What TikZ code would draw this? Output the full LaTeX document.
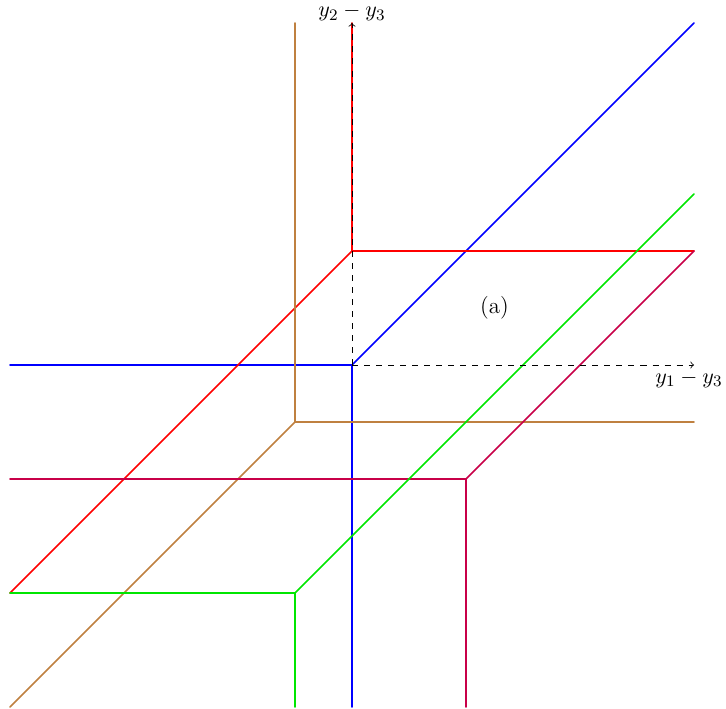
\documentclass[tikz,border=0pt]{standalone}
\usepackage{xcolor}
\definecolor{cbrown}{RGB}{191,128,64}
\definecolor{cpurple}{RGB}{200,0,72}
\definecolor{cgreen}{RGB}{0,230,0}
\begin{document}
\begin{tikzpicture}[seg/.style={thick,line cap=round},ax/.style={dashed,->},
  lbl/.style={font=\fontsize{11.4}{13.7}\selectfont}]
\useasboundingbox (-6.17544,-6.01754) rectangle (6.56140,6.40351);
\coordinate (O) at (0,0);
\coordinate (R) at (0,2);
\coordinate (B) at (-1,-1);
\coordinate (M) at (2,-2);
\coordinate (G) at (-1,-4);
% blue
\draw[seg,blue] (O) -- (-6,0);
\draw[seg,blue] (O) -- (0,-6);
\draw[seg,blue] (O) -- (6,6);
% red
\draw[seg,red] (R) -- (0,6);
\draw[seg,red] (R) -- (6,2);
\draw[seg,red] (R) -- (-6,-4);
% brown
\draw[seg,cbrown] (B) -- (-1,6);
\draw[seg,cbrown] (B) -- (6,-1);
\draw[seg,cbrown] (B) -- (-6,-6);
% purple
\draw[seg,cpurple] (M) -- (-6,-2);
\draw[seg,cpurple] (M) -- (2,-6);
\draw[seg,cpurple] (M) -- (6,2);
% green
\draw[seg,cgreen] (G) -- (-6,-4);
\draw[seg,cgreen] (G) -- (-1,-6);
\draw[seg,cgreen] (G) -- (6,3);
% axes
\coordinate (X) at (6,0);
\coordinate (Y) at (0,6);
\draw[ax] (O) -- (X);
\draw[ax] (O) -- (Y);
\node[lbl,below,inner sep=2.5pt,xshift=-2.5pt] (xl) at (X) {$y_1-y_3$};
\node[lbl,above,inner sep=0.8pt] (yl) at (Y) {$y_2-y_3$};
\node[lbl] (a) at (2.5,1) {(a)};
\end{tikzpicture}
\end{document}
